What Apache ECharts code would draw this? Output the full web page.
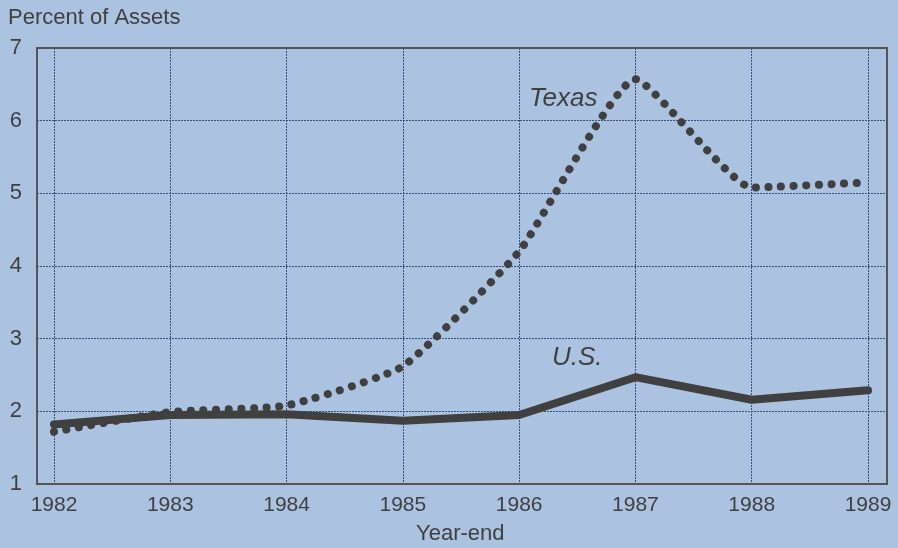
<!DOCTYPE html>
<html><head><meta charset="utf-8">
<script src="https://cdn.jsdelivr.net/npm/echarts@6/dist/echarts.min.js"></script>
<style>html,body{margin:0;padding:0;background:#abc3e0;}#c{width:898px;height:548px;}</style>
</head><body><div id="c"></div>
<script>
const years = [1982, 1983, 1984, 1985, 1986, 1987, 1988, 1989];
const texas = [1.72, 1.99, 2.08, 2.62, 4.2, 6.57, 5.08, 5.15];
const us = [1.82, 1.95, 1.96, 1.87, 1.95, 2.47, 2.16, 2.29];
const yTicks = [1, 2, 3, 4, 5, 6, 7];

const ink = '#404040';
const gridLine = { color: '#34507e', width: 1, type: [2, 1] };
const font = 'Liberation Sans, Arial, sans-serif';

const chart = echarts.init(document.getElementById('c'));
chart.setOption({
  backgroundColor: '#abc3e0',
  animation: false,
  grid: [
    { left: 54, right: 30, top: 48, bottom: 64 },
    { left: 37, right: 11, top: 48, bottom: 64, show: true, borderColor: '#555555', borderWidth: 2, backgroundColor: 'transparent', z: 5 }
  ],
  xAxis: [
    { type: 'value', gridIndex: 0, min: years[0], max: years[years.length - 1], interval: 1,
      axisLine: { show: false }, axisTick: { show: false },
      axisLabel: { color: ink, fontSize: 21, fontFamily: font, margin: 11, formatter: v => String(v) },
      splitLine: { show: true, lineStyle: gridLine } },
    { type: 'value', gridIndex: 1, min: 0, max: 1, show: false }
  ],
  yAxis: [
    { type: 'value', gridIndex: 0, min: 1, max: 7, interval: 1, show: false },
    { type: 'value', gridIndex: 1, min: yTicks[0], max: yTicks[yTicks.length - 1], interval: 1,
      axisLine: { show: false }, axisTick: { show: false },
      axisLabel: { color: ink, fontSize: 22, fontFamily: font, margin: 15 },
      splitLine: { show: true, lineStyle: gridLine } }
  ],
  graphic: [
    { type: 'text', left: 8, top: 7, style: { text: 'Percent of Assets', fill: ink, font: '22px ' + font } },
    { type: 'text', left: 416, top: 523, style: { text: 'Year-end', fill: ink, font: '22px ' + font } },
    { type: 'text', left: 529, top: 86, style: { text: 'Texas', fill: ink, font: 'italic 26px ' + font } },
    { type: 'text', left: 552, top: 345, style: { text: 'U.S.', fill: ink, font: 'italic 26px ' + font } }
  ],
  series: [
    { type: 'line', xAxisIndex: 0, yAxisIndex: 0, data: years.map((y, i) => [y, texas[i]]),
      symbol: 'none', smooth: 0.15, z: 3,
      lineStyle: { color: ink, width: 8, type: [0.1, 12.5], cap: 'round' } },
    { type: 'line', xAxisIndex: 0, yAxisIndex: 0, data: years.map((y, i) => [y, us[i]]),
      symbol: 'none', z: 4,
      lineStyle: { color: ink, width: 8, cap: 'round', join: 'round' } }
  ]
});
</script></body></html>
